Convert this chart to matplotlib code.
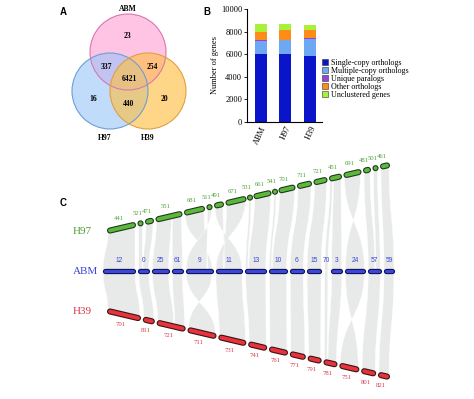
import numpy as np
import matplotlib
matplotlib.use('Agg')
import matplotlib.pyplot as plt
from matplotlib.patches import Circle, PathPatch
from matplotlib.path import Path

SERIF = ['Liberation Serif', 'DejaVu Serif']
SANS = ['Liberation Sans', 'DejaVu Sans']

# ---------------- Panel A data ----------------
venn_sets = ['ABM', 'H97', 'H39']
venn_regions = ['ABM', 'ABM&H97', 'ABM&H39', 'ABM&H97&H39', 'H97', 'H97&H39', 'H39']
venn_counts = [23, 337, 254, 6421, 16, 440, 20]

# ---------------- Panel B data ----------------
genomes = ['ABM', 'H97', 'H39']
categories = ['Single-copy orthologs', 'Multiple-copy orthologs', 'Unique paralogs',
              'Other orthologs', 'Unclustered genes']
single_copy = [6050, 5980, 5880]
multi_copy = [1130, 1260, 1500]
unique_paralogs = [60, 40, 30]
other_orthologs = [720, 860, 730]
unclustered = [710, 530, 440]
yticks = [0, 2000, 4000, 6000, 8000, 10000]

# ---------------- Panel C data ----------------
abm_labels = ['12', '0', '25', '61', '9', '11', '13', '10', '6', '15', '70', '3', '24', '57', '59']
abm_lengths = [32, 10, 16, 10, 26, 26, 20, 17, 13, 14, 3, 10, 19, 12, 10]
h97_labels = ['441', '521', '471', '551', '681', '511', '491', '671', '531', '661', '541',
              '701', '711', '721', '451', '691', '481', '501', '461']
h97_lengths = [27, 4, 7, 25, 19, 4, 8, 19, 2, 16, 2, 15, 13, 12, 11, 16, 6, 4, 8]
h39_labels = ['701', '811', '721', '711', '731', '741', '761', '771', '791', '781', '751', '801', '821']
h39_lengths = [32, 10, 27, 27, 26, 17, 17, 14, 12, 12, 18, 13, 10]
# synteny blocks: (ABM segment indices, other genome segment indices, inverted)
h97_links = [([0], [0], False), ([1], [1, 2], False), ([2, 3], [3], False), ([4], [4, 5], True),
             ([5], [6, 7], True), ([6], [8, 9], False), ([7], [10, 11], False), ([8], [12], False),
             ([9], [13], False), ([10, 11], [14], False), ([12], [15], True), ([13], [16, 17], False),
             ([14], [18], False)]
h39_links = [([0], [0], False), ([1], [1], False), ([2, 3], [2], False), ([4], [3], True),
             ([5], [4], False), ([6], [5], False), ([7], [6], False), ([8], [7], False),
             ([9], [8], False), ([10, 11], [9], False), ([12], [10], True), ([13], [11], False),
             ([14], [12], False)]

fig = plt.figure(figsize=(4.74, 3.99), dpi=100)
ax0 = fig.add_axes([0, 0, 1, 1])
ax0.set_xlim(0, 474)
ax0.set_ylim(399, 0)
ax0.axis('off')

# ---------------- Panel A ----------------
circ = {'ABM': ((128, 52), '#ff9ed4', '#d878b0'),
        'H97': ((110, 91), '#9cc6fa', '#6c9ed8'),
        'H39': ((148, 91), '#ffbe40', '#e0a040')}
R = 38
for s in venn_sets:
    c, fc, ec = circ[s]
    ax0.add_patch(Circle(c, R, facecolor=fc, edgecolor='none', alpha=0.62, zorder=1))
    ax0.add_patch(Circle(c, R, facecolor='none', edgecolor=ec, lw=0.8, zorder=2))
set_label_pos = {'ABM': (128, 9), 'H97': (105, 138), 'H39': (148, 138)}
for s in venn_sets:
    ax0.text(*set_label_pos[s], s, ha='center', va='center', fontsize=5.5,
             fontweight='bold', family=SERIF, zorder=3)
region_pos = {'ABM': (128, 36), 'ABM&H97': (106, 67), 'ABM&H39': (152, 67),
              'ABM&H97&H39': (129, 79), 'H97': (93, 99), 'H97&H39': (129, 104), 'H39': (164, 99)}
for r, n in zip(venn_regions, venn_counts):
    ax0.text(*region_pos[r], str(n), ha='center', va='center', fontsize=5.5,
             fontweight='bold', family=SERIF, zorder=3)

for lab, (x, y) in zip(['A', 'B', 'C'], [(63, 12), (207, 12), (63, 203)]):
    ax0.text(x, y, lab, ha='center', va='center', fontsize=7, fontweight='bold', family=SANS)

# ---------------- Panel B ----------------
axb = fig.add_axes([247 / 474, 1 - 122 / 399, 75 / 474, 113 / 399])
colors_b = ['#0a14c8', '#6ea8f2', '#9a3fd8', '#ff8c18', '#a8f03a']
series = [single_copy, multi_copy, unique_paralogs, other_orthologs, unclustered]
x = np.arange(len(genomes))
bottom = np.zeros(len(genomes))
handles = []
for vals, col, name in zip(series, colors_b, categories):
    h = axb.bar(x, vals, width=0.49, bottom=bottom, color=col, label=name, edgecolor='none')
    handles.append(h)
    bottom += np.array(vals)
axb.set_ylim(0, 10000)
axb.set_xlim(-0.57, 2.49)
axb.set_yticks(yticks)
axb.set_yticklabels([str(t) for t in yticks], family=SERIF, fontsize=6)
axb.set_xticks(x)
axb.set_xticklabels(genomes, family=SERIF, fontsize=6, rotation=65, ha='right',
                    va='top', rotation_mode='anchor')
axb.tick_params(axis='both', length=2, width=0.6, pad=1.5)
axb.tick_params(axis='x', length=0, pad=2)
for sp in ['top', 'right']:
    axb.spines[sp].set_visible(False)
for sp in ['left', 'bottom']:
    axb.spines[sp].set_linewidth(0.8)
axb.set_ylabel('Number of genes', family=SERIF, fontsize=6, labelpad=1)
leg = axb.legend(handles=handles, loc='upper left', bbox_to_anchor=(322 / 474, 1 - 59 / 399),
                 bbox_transform=fig.transFigure, frameon=False,
                 prop={'family': SERIF, 'size': 5.8}, handlelength=0.8, handleheight=0.8,
                 labelspacing=0.0, handletextpad=0.3, borderpad=0, borderaxespad=0)
for p in leg.get_patches():
    p.set_edgecolor('#333333')
    p.set_linewidth(0.4)

# ---------------- Panel C ----------------
def layout(lengths, x0, x1):
    lengths = np.asarray(lengths, float)
    gap = (x1 - x0 - lengths.sum()) / (len(lengths) - 1)
    starts = x0 + np.concatenate([[0], np.cumsum(lengths[:-1] + gap)])
    return starts, starts + lengths

Y_ABM = 271.0
TILT = 0.235
def y_abm(xv):
    return Y_ABM + 0 * np.asarray(xv, float)
def y_h97(xv):
    return 231 - TILT * (np.asarray(xv, float) - 108)
def y_h39(xv):
    return 311 + TILT * (np.asarray(xv, float) - 108)

a_st, a_en = layout(abm_lengths, 103, 394)
g_st, g_en = layout(h97_lengths, 108, 389)
r_st, r_en = layout(h39_lengths, 108, 389)

RIB = '#e6e9e7'

def ribbon(a0, a1, b0, b1, yb, inv):
    if inv:
        b0, b1 = b1, b0
    yb0, yb1 = float(yb(b0)), float(yb(b1))
    m0 = (Y_ABM + yb0) / 2
    m1 = (Y_ABM + yb1) / 2
    verts = [(a0, Y_ABM), (a0, m0), (b0, m0), (b0, yb0), (b1, yb1),
             (b1, m1), (a1, m1), (a1, Y_ABM), (a0, Y_ABM)]
    codes = [Path.MOVETO, Path.CURVE4, Path.CURVE4, Path.CURVE4, Path.LINETO,
             Path.CURVE4, Path.CURVE4, Path.CURVE4, Path.CLOSEPOLY]
    ax0.add_patch(PathPatch(Path(verts, codes), facecolor=RIB, edgecolor='white',
                            lw=0.3, alpha=0.95, zorder=1))

def split(lo, hi, weights, gap=1.0):
    w = np.asarray(weights, float)
    total = hi - lo - gap * (len(w) - 1)
    edges = []
    cur = lo
    for wi in w:
        ln = total * wi / w.sum()
        edges.append((cur, cur + ln))
        cur += ln + gap
    return edges

def draw_links(links, b_st, b_en, yb):
    for ai, bi, inv in links:
        A0, A1 = a_st[ai[0]], a_en[ai[-1]]
        B0, B1 = b_st[bi[0]], b_en[bi[-1]]
        if len(bi) > 1:
            subs_a = split(A0, A1, [b_en[i] - b_st[i] for i in bi])
            if inv:
                subs_a = subs_a[::-1]
            for (s0, s1), i in zip(subs_a, bi):
                ribbon(s0, s1, b_st[i], b_en[i], yb, inv)
        elif len(ai) > 1:
            subs_b = split(B0, B1, [a_en[i] - a_st[i] for i in ai])
            if inv:
                subs_b = subs_b[::-1]
            for (s0, s1), i in zip(subs_b, ai):
                ribbon(a_st[i], a_en[i], s0, s1, yb, inv)
        else:
            ribbon(A0, A1, B0, B1, yb, inv)

draw_links(h97_links, g_st, g_en, y_h97)
draw_links(h39_links, r_st, r_en, y_h39)

def draw_segments(st, en, yf, dark, fill, lw_out, lw_in, r=2.0):
    for s, e in zip(st, en):
        mid = (s + e) / 2
        half = max((e - s) / 2 - r, 0.05)
        xs = np.array([mid - half, mid + half])
        ys = yf(xs)
        ax0.plot(xs, ys, color=dark, lw=lw_out, solid_capstyle='round', zorder=4)
        ax0.plot(xs, ys, color=fill, lw=lw_in, solid_capstyle='round', zorder=5)

draw_segments(g_st, g_en, y_h97, '#1e3a1a', '#5cb83c', 4.4, 2.8)
draw_segments(r_st, r_en, y_h39, '#3a1414', '#e8323c', 4.4, 2.8)
draw_segments(a_st, a_en, y_abm, '#10105a', '#3a48d8', 3.8, 2.2, r=1.6)

GREEN_T = '#4ca034'
RED_T = '#d8344a'
BLUE_T = '#3c46d2'
for s, e, lab in zip(g_st, g_en, h97_labels):
    c = (s + e) / 2 - 3
    ax0.text(c, float(y_h97(c)) - 10.5, lab, ha='center', va='center', fontsize=4.8,
             color=GREEN_T, family=SERIF, zorder=6)
for s, e, lab in zip(r_st, r_en, h39_labels):
    c = (s + e) / 2 - 3
    ax0.text(c, float(y_h39(c)) + 10.5, lab, ha='center', va='center', fontsize=4.8,
             color=RED_T, family=SERIF, zorder=6)
for s, e, lab in zip(a_st, a_en, abm_labels):
    c = (s + e) / 2
    ax0.text(c, Y_ABM - 11, lab, ha='center', va='center', fontsize=4.8,
             color=BLUE_T, family=SANS, zorder=6)

ax0.text(82, 231, 'H97', ha='center', va='center', fontsize=8, color=GREEN_T, family=SERIF)
ax0.text(86, 271, 'ABM', ha='center', va='center', fontsize=8, color=BLUE_T, family=SERIF)
ax0.text(82, 311, 'H39', ha='center', va='center', fontsize=8, color=RED_T, family=SERIF)

fig.savefig('out.png', dpi=100)
